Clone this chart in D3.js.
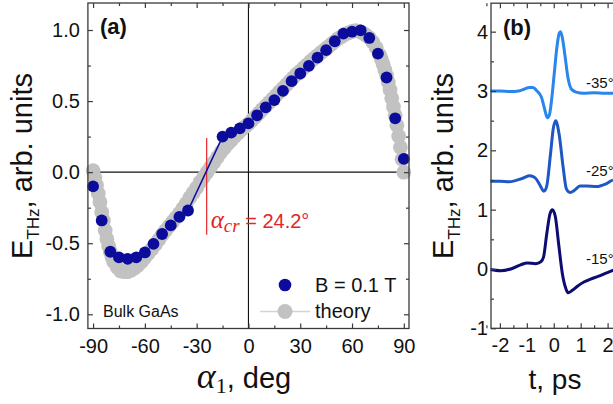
<!DOCTYPE html>
<html>
<head>
<meta charset="utf-8">
<script src="https://cdn.jsdelivr.net/npm/d3@7"></script>
<style>
  body { margin: 0; background: #fff; }
  svg { display: block; }
</style>
</head>
<body>
<svg id="fig" width="613" height="404"></svg>
<script>
// ---------- Panel (a): THz amplitude vs angle alpha_1 ----------
const measAngle = [-90, -85, -80, -75, -70, -65, -60, -55, -50, -45, -40, -35,
                   -15, -10, -5, 0, 5, 10, 15, 20, 25, 30, 35, 40, 45, 50, 55, 60, 65, 70, 75, 80, 85, 90];
const measField = [-0.10, -0.34, -0.56, -0.60, -0.61, -0.60, -0.565, -0.505, -0.435, -0.375, -0.315, -0.27,
                   0.25, 0.278, 0.308, 0.343, 0.40, 0.456, 0.507, 0.572, 0.64, 0.694, 0.748, 0.806, 0.858, 0.921,
                   0.975, 0.988, 0.998, 0.944, 0.834, 0.666, 0.379, 0.093];
// points joined across the sign change
const crossPair = [-35, -15];
const alphaCr = -24.2;
const alphaCrSpan = [-0.44, 0.24];

const theoryAngle = [-90, -89, -88, -87, -86, -85, -84, -83, -82, -81,
                     -80, -79, -78, -76, -74, -72, -70, -68, -66, -64,
                     -62, -60, -58, -56, -54, -52, -50, -48, -46, -44,
                     -42, -40, -38, -36, -34, -32, -30, -28, -26, -24,
                     -22, -20, -18, -16, -14, -12, -10, -8, -6, -4,
                     -2, 0, 2, 4, 6, 8, 10, 12, 14, 16,
                     18, 20, 22, 24, 26, 28, 30, 32, 34, 36,
                     38, 40, 42, 44, 46, 48, 50, 52, 54, 56,
                     58, 60, 62, 64, 66, 68, 70, 72, 74, 76,
                     77, 78, 79, 80, 81, 82, 83, 84, 85, 86,
                     87, 88, 89, 90];
const theoryField = [0.01, -0.04, -0.09, -0.15, -0.21, -0.28, -0.34, -0.41, -0.47, -0.52,
                     -0.56, -0.60, -0.63, -0.67, -0.695, -0.70, -0.70, -0.69, -0.675, -0.655,
                     -0.63, -0.60, -0.57, -0.54, -0.51, -0.475, -0.44, -0.41, -0.38, -0.35,
                     -0.32, -0.29, -0.255, -0.22, -0.18, -0.145, -0.11, -0.07, -0.035, 0.0,
                     0.035, 0.07, 0.105, 0.14, 0.17, 0.20, 0.225, 0.25, 0.275, 0.30,
                     0.32, 0.34, 0.365, 0.39, 0.415, 0.44, 0.465, 0.49, 0.515, 0.54,
                     0.565, 0.59, 0.615, 0.64, 0.665, 0.69, 0.71, 0.735, 0.755, 0.78,
                     0.80, 0.82, 0.84, 0.86, 0.88, 0.90, 0.92, 0.94, 0.955, 0.97,
                     0.98, 0.99, 0.995, 0.99, 0.98, 0.965, 0.945, 0.915, 0.875, 0.825,
                     0.795, 0.76, 0.72, 0.68, 0.63, 0.58, 0.52, 0.46, 0.40, 0.33,
                     0.255, 0.175, 0.09, 0.0];

const angleTicks = [-90, -60, -30, 0, 30, 60, 90];
const angleMinor = [-75, -45, -15, 15, 45, 75];
const fieldTicks = [-1.0, -0.5, 0.0, 0.5, 1.0];
const fieldMinor = [-0.75, -0.25, 0.25, 0.75];

// ---------- Panel (b): waveforms ----------
const traceLabels = ["-35°", "-25°", "-15°"];
const traceColors = ["#2a86ec", "#1d58c4", "#0c0c72"];
const timeM35 = [-2.35, -2.0, -1.6, -1.3, -1.1, -0.9, -0.78, -0.62, -0.46, -0.33, -0.24, -0.16, -0.08, 0.02,
                 0.12, 0.2, 0.25, 0.31, 0.41, 0.53, 0.66, 0.84, 1.1, 1.5, 1.9, 2.2, 2.6, 3.0];
const fieldM35 = [3.0, 3.0, 2.99, 3.0, 3.03, 3.06, 3.06, 3.0, 2.9, 2.68, 2.55, 2.6, 2.85, 3.3,
                  3.75, 3.97, 4.0, 3.92, 3.62, 3.22, 3.03, 2.98, 2.96, 2.97, 2.96, 2.96, 2.99, 3.0];
const timeM25 = [-2.35, -2.0, -1.65, -1.15, -0.89, -0.7, -0.52, -0.37, -0.27, -0.12, -0.02, 0.07, 0.2, 0.35,
                 0.47, 0.6, 0.78, 0.97, 1.21, 1.59, 1.96, 2.2, 2.6, 3.0];
const fieldM25 = [1.48, 1.48, 1.47, 1.53, 1.57, 1.54, 1.42, 1.31, 1.38, 1.94, 2.36, 2.5, 2.27, 1.71,
                  1.35, 1.29, 1.33, 1.40, 1.40, 1.39, 1.44, 1.50, 1.52, 1.53];
const timeM15 = [-2.35, -1.98, -1.6, -1.23, -0.98, -0.67, -0.48, -0.38, -0.26, -0.14, -0.05, 0.06, 0.18, 0.32,
                 0.45, 0.53, 0.69, 0.88, 1.12, 1.37, 1.62, 1.99, 2.23, 2.6, 3.0];
const fieldM15 = [-0.01, -0.03, 0.0, 0.07, 0.10, 0.09, 0.12, 0.2, 0.59, 0.93, 1.0, 0.88, 0.43, -0.08,
                  -0.33, -0.40, -0.36, -0.29, -0.22, -0.17, -0.13, -0.06, -0.02, 0.0, 0.01];
const traceLabelY = [2.97, 1.48, 0.0];

const timeTicks = [-2, -1, 0, 1, 2];
const timeMinor = [-2.5, -1.5, -0.5, 0.5, 1.5, 2.5, 3.5];
const ampTicks = [-1, 0, 1, 2, 3, 4];
const ampMinor = [-0.5, 0.5, 1.5, 2.5, 3.5];

// ---------- drawing ----------
const SANS = '"Liberation Sans", Arial, Helvetica, sans-serif';
const SERIF = '"Liberation Serif", "Times New Roman", serif';
const FRAME = "#3a3a3a";
const BLUE = "#0b0b9c";
const GREY = "#c2c2c2";
const RED = "#e3262a";

const svg = d3.select("#fig").style("font-family", SANS);

function frameAxes(g, x, y, o) {
  const [x0, x1] = x.range();
  const [y0, y1] = y.range();
  const mk = (axis, tx, ty, vals, size, fmt, pad) => {
    const a = axis.tickValues(vals).tickSize(size).tickPadding(pad || 3)
      .tickFormat(fmt || (() => ""));
    const gg = g.append("g").attr("transform", `translate(${tx},${ty})`).call(a);
    gg.select(".domain").remove();
    gg.selectAll(".tick line").attr("stroke", FRAME).attr("stroke-width", 1.2);
    gg.selectAll("text").attr("fill", "#111").style("font-family", SANS).style("font-size", "20px");
    return gg;
  };
  mk(d3.axisBottom(x), 0, y0, o.xMajor, -5, o.xFmt, o.xPad);
  mk(d3.axisBottom(x), 0, y0, o.xMinor, -3);
  mk(d3.axisTop(x), 0, y1, o.xMajor, -5);
  mk(d3.axisTop(x), 0, y1, o.xMinor, -3);
  mk(d3.axisLeft(y), x0, 0, o.yMajor, -5, o.yFmt, o.yPad);
  mk(d3.axisLeft(y), x0, 0, o.yMinor, -3);
  mk(d3.axisRight(y), x1, 0, o.yMajor, -5);
  mk(d3.axisRight(y), x1, 0, o.yMinor, -3);
  g.append("rect").attr("x", x0).attr("y", y1).attr("width", x1 - x0).attr("height", y0 - y1)
    .attr("fill", "none").attr("stroke", FRAME).attr("stroke-width", 1.3);
}

function yTitle(g, x, y) {
  const t = g.append("text").attr("transform", `translate(${x},${y}) rotate(-90)`)
    .attr("text-anchor", "middle").attr("fill", "#111").style("font-size", "29px");
  t.append("tspan").text("E");
  t.append("tspan").attr("dy", 7).style("font-size", "17px").text("THz");
  t.append("tspan").attr("dy", -7).text(", arb. units");
}

// Panel (a)
{
  const x = d3.scaleLinear().domain([-93, 93]).range([87.9, 409.0]);
  const y = d3.scaleLinear().domain([-1.1, 1.19]).range([328.5, 3]);
  const g = svg.append("g");

  // zero lines
  g.append("line").attr("x1", x.range()[0]).attr("x2", x.range()[1]).attr("y1", y(0)).attr("y2", y(0))
    .attr("stroke", "#111").attr("stroke-width", 1.1);
  g.append("line").attr("x1", x(0)).attr("x2", x(0)).attr("y1", y.range()[0]).attr("y2", y.range()[1])
    .attr("stroke", "#111").attr("stroke-width", 1.1);

  // theory: thin line plus dense symbols
  const theory = theoryAngle.map((a, i) => [a, theoryField[i]]);
  g.append("path").datum(theory)
    .attr("d", d3.line().x(d => x(d[0])).y(d => y(d[1])))
    .attr("fill", "none").attr("stroke", GREY).attr("stroke-width", 1);
  g.append("g").selectAll("circle").data(theory).join("circle")
    .attr("cx", d => x(d[0])).attr("cy", d => y(d[1])).attr("r", 7.4).attr("fill", GREY);

  // critical angle marker
  g.append("line").attr("x1", x(alphaCr)).attr("x2", x(alphaCr))
    .attr("y1", y(alphaCrSpan[1])).attr("y2", y(alphaCrSpan[0]))
    .attr("stroke", RED).attr("stroke-width", 1.2);

  // measured points and the joining segment across zero
  const meas = measAngle.map((a, i) => [a, measField[i]]);
  const pair = meas.filter(d => crossPair.includes(d[0]));
  g.append("path").datum(pair)
    .attr("d", d3.line().x(d => x(d[0])).y(d => y(d[1])))
    .attr("fill", "none").attr("stroke", BLUE).attr("stroke-width", 1.5);
  g.append("g").selectAll("circle").data(meas).join("circle")
    .attr("cx", d => x(d[0])).attr("cy", d => y(d[1])).attr("r", 5.9).attr("fill", BLUE);

  frameAxes(g, x, y, {
    xMajor: angleTicks, xMinor: angleMinor, xFmt: d => String(d), xPad: 10,
    yMajor: fieldTicks, yMinor: fieldMinor, yFmt: d => d.toFixed(1), yPad: 8
  });

  // alpha_cr label
  const lab = g.append("text").attr("x", x(alphaCr) + 4).attr("y", 228).attr("fill", RED);
  lab.append("tspan").style("font-family", SERIF).style("font-style", "italic").style("font-size", "25px").text("α");
  lab.append("tspan").attr("dy", 4).style("font-family", SERIF).style("font-style", "italic").style("font-size", "19px").text("cr");
  lab.append("tspan").attr("dy", -4).style("font-size", "20px").text(" = " + Math.abs(alphaCr).toFixed(1) + "°");

  // panel tag and sample name
  g.append("text").attr("x", 100).attr("y", 34).style("font-size", "22px").style("font-weight", "bold")
    .attr("fill", "#111").text("(a)");
  g.append("text").attr("x", 103).attr("y", 317).style("font-size", "16px").attr("fill", "#111").text("Bulk GaAs");

  // legend
  g.append("circle").attr("cx", 285).attr("cy", 285).attr("r", 6.3).attr("fill", BLUE);
  g.append("text").attr("x", 315).attr("y", 292).style("font-size", "20px").attr("fill", "#111").text("B = 0.1 T");
  g.append("line").attr("x1", 260).attr("x2", 310).attr("y1", 311.5).attr("y2", 311.5)
    .attr("stroke", "#d4d4d4").attr("stroke-width", 1.5);
  g.append("circle").attr("cx", 285).attr("cy", 311.5).attr("r", 7.5).attr("fill", GREY);
  g.append("text").attr("x", 315).attr("y", 318).style("font-size", "20px").attr("fill", "#111").text("theory");

  // axis titles
  yTitle(g, 32, 166);
  const xt = g.append("text").attr("x", 244).attr("y", 388).attr("text-anchor", "middle").attr("fill", "#111");
  xt.append("tspan").style("font-family", SERIF).style("font-style", "italic").style("font-size", "36px").text("α");
  xt.append("tspan").attr("dy", 5).style("font-family", SERIF).style("font-size", "22px").text("1");
  xt.append("tspan").attr("dy", -5).style("font-size", "29px").text(", deg");
}

// Panel (b)
{
  const x = d3.scaleLinear().domain([-2.33, 4.2]).range([491, 491 + 6.53 * 26.93]);
  const y = d3.scaleLinear().domain([-1, 4.48]).range([328.3, 3.2]);
  const g = svg.append("g");

  const traces = [[timeM35, fieldM35], [timeM25, fieldM25], [timeM15, fieldM15]];
  const line = d3.line().x(d => x(d[0])).y(d => y(d[1])).curve(d3.curveMonotoneX);
  traces.forEach(([ts, vs], i) => {
    g.append("path").datum(ts.map((t, k) => [t, vs[k]]))
      .attr("d", line).attr("fill", "none").attr("stroke", traceColors[i])
      .attr("stroke-width", 3).attr("stroke-linejoin", "round");
  });
  // trace labels sit on white boxes over the curves
  traceLabels.forEach((s, i) => {
    const ty = y(traceLabelY[i]) - 5;
    g.append("rect").attr("x", 584).attr("y", ty - 13).attr("width", 40).attr("height", 16).attr("fill", "#fff");
    g.append("text").attr("x", 586).attr("y", ty).style("font-size", "15px").attr("fill", "#111").text(s);
  });

  frameAxes(g, x, y, {
    xMajor: timeTicks, xMinor: timeMinor, xFmt: d => String(d), xPad: 10,
    yMajor: ampTicks, yMinor: ampMinor, yFmt: d => String(d), yPad: 3
  });

  g.append("text").attr("x", 503).attr("y", 35).style("font-size", "22px").style("font-weight", "bold")
    .attr("fill", "#111").text("(b)");
  yTitle(g, 453, 166);
  g.append("text").attr("x", 555).attr("y", 389).attr("text-anchor", "middle")
    .style("font-size", "28px").attr("fill", "#111").text("t, ps");
}
</script>
</body>
</html>
